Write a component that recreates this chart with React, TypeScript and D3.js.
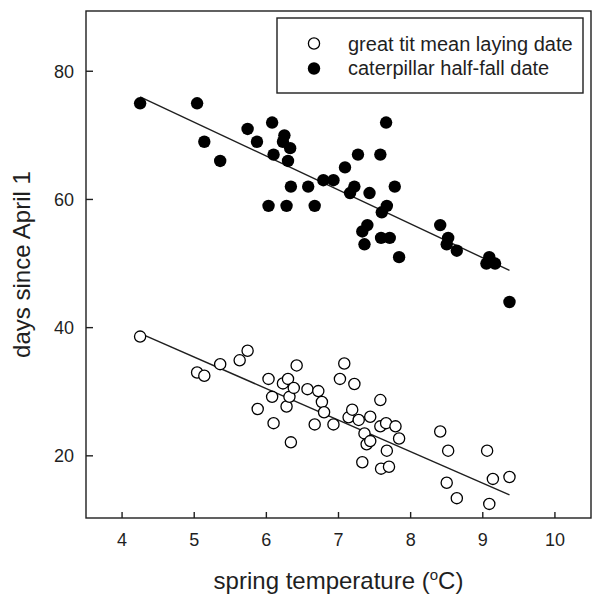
import React from "react";
import * as d3 from "d3";

// great tit mean laying date (open circles): temperature, days since April 1
const titTemp = [4.25, 5.04, 5.14, 5.36, 5.63, 5.74, 5.88, 6.03, 6.08, 6.10, 6.23, 6.28, 6.30, 6.32, 6.34, 6.38, 6.42, 6.57, 6.67, 6.72, 6.77, 6.80, 6.93, 7.02, 7.08, 7.14, 7.19, 7.22, 7.28, 7.33, 7.36, 7.39, 7.44, 7.44, 7.58, 7.58, 7.59, 7.66, 7.67, 7.70, 7.79, 7.84, 8.41, 8.50, 8.52, 8.64, 9.06, 9.09, 9.14, 9.37];
const titDate = [38.6, 33.0, 32.5, 34.3, 34.9, 36.4, 27.3, 32.0, 29.2, 25.1, 31.3, 27.7, 32.0, 29.2, 22.1, 30.6, 34.1, 30.4, 24.9, 30.1, 28.4, 26.8, 24.9, 32.0, 34.4, 26.0, 27.2, 31.2, 25.6, 19.0, 23.5, 21.8, 22.3, 26.1, 28.7, 24.6, 18.0, 25.1, 20.8, 18.3, 24.6, 22.7, 23.8, 15.8, 20.8, 13.4, 20.8, 12.5, 16.4, 16.7];

// caterpillar half-fall date (filled circles)
const catTemp = [4.25, 5.04, 5.14, 5.36, 5.74, 5.87, 6.03, 6.08, 6.10, 6.23, 6.25, 6.28, 6.30, 6.33, 6.34, 6.58, 6.67, 6.79, 6.93, 7.09, 7.16, 7.22, 7.27, 7.33, 7.36, 7.40, 7.43, 7.58, 7.59, 7.60, 7.66, 7.67, 7.71, 7.78, 7.84, 8.41, 8.50, 8.52, 8.64, 9.05, 9.09, 9.17, 9.37];
const catDate = [75, 75, 69, 66, 71, 69, 59, 72, 67, 69, 70, 59, 66, 68, 62, 62, 59, 63, 63, 65, 61, 62, 67, 55, 53, 56, 61, 67, 54, 58, 72, 59, 54, 62, 51, 56, 53, 54, 52, 50, 51, 50, 44];

// fitted regression lines: [intercept, slope]
const titFit = [60.0, -4.92];
const catFit = [98.5, -5.29];

const xTicks = [4, 5, 6, 7, 8, 9, 10];
const yTicks = [20, 40, 60, 80];
const legendLabels = ["great tit mean laying date", "caterpillar half-fall date"];

const FONT = "'Liberation Sans', Arial, sans-serif";
const INK = "#1f1f1f";

export default function App() {
  const W = 592, H = 597;
  const left = 86, right = 591, top = 11, bottom = 518;
  const x = d3.scaleLinear().domain([3.5, 10.5]).range([left, right]);
  const y = d3.scaleLinear().domain([10.3, 89.4]).range([bottom, top]);

  const lineGen = d3.line<[number, number]>().x(d => x(d[0])).y(d => y(d[1]));
  const fitLine = (xs: number[], fit: number[]) => {
    const x0 = d3.min(xs)!, x1 = d3.max(xs)!;
    return lineGen([[x0, fit[0] + fit[1] * x0], [x1, fit[0] + fit[1] * x1]]);
  };

  const tit = titTemp.map((t, i) => [t, titDate[i]]);
  const cat = catTemp.map((t, i) => [t, catDate[i]]);

  return (
    <svg width={W} height={H} style={{ position: "absolute", left: 0, top: 0, background: "#fff" }}>
      <rect x={0} y={0} width={W} height={H} fill="#fff" />
      {/* regression lines */}
      <path d={fitLine(catTemp, catFit) || ""} stroke={INK} strokeWidth={1.4} fill="none" />
      <path d={fitLine(titTemp, titFit) || ""} stroke={INK} strokeWidth={1.4} fill="none" />
      {/* points */}
      {cat.map((d, i) => (
        <circle key={"c" + i} cx={x(d[0])} cy={y(d[1])} r={6.2} fill="#000" />
      ))}
      {tit.map((d, i) => (
        <circle key={"t" + i} cx={x(d[0])} cy={y(d[1])} r={5.6} fill="#fff" stroke="#000" strokeWidth={1.3} />
      ))}
      {/* frame */}
      <rect x={left} y={top} width={right - left} height={bottom - top} fill="none" stroke={INK} strokeWidth={1.4} />
      {/* x ticks */}
      {xTicks.map(t => (
        <g key={"xt" + t}>
          <line x1={x(t)} x2={x(t)} y1={bottom} y2={bottom - 6} stroke={INK} strokeWidth={1.4} />
          <text x={x(t)} y={546} textAnchor="middle" fontFamily={FONT} fontSize={18} fill={INK}>{t}</text>
        </g>
      ))}
      {/* y ticks */}
      {yTicks.map(t => (
        <g key={"yt" + t}>
          <line x1={left} x2={left + 7} y1={y(t)} y2={y(t)} stroke={INK} strokeWidth={1.4} />
          <text x={74} y={y(t) + 6.5} textAnchor="end" fontFamily={FONT} fontSize={18} fill={INK}>{t}</text>
        </g>
      ))}
      {/* axis titles */}
      <text x={(left + right) / 2} y={589} textAnchor="middle" fontFamily={FONT} fontSize={24} fill={INK}>
        spring temperature (<tspan fontSize={15} dy={-9}>o</tspan><tspan dy={9}>C)</tspan>
      </text>
      <text transform={`translate(30, ${(top + bottom) / 2}) rotate(-90)`} textAnchor="middle" fontFamily={FONT} fontSize={24} fill={INK}>
        days since April 1
      </text>
      {/* legend */}
      <rect x={277} y={18} width={306} height={75} fill="#fff" stroke={INK} strokeWidth={1.4} />
      <circle cx={314} cy={43.5} r={5.6} fill="#fff" stroke="#000" strokeWidth={1.3} />
      <circle cx={314} cy={68.5} r={6.2} fill="#000" />
      <text x={348} y={50.5} fontFamily={FONT} fontSize={20} fill={INK}>{legendLabels[0]}</text>
      <text x={348} y={74.5} fontFamily={FONT} fontSize={20} fill={INK}>{legendLabels[1]}</text>
    </svg>
  );
}
